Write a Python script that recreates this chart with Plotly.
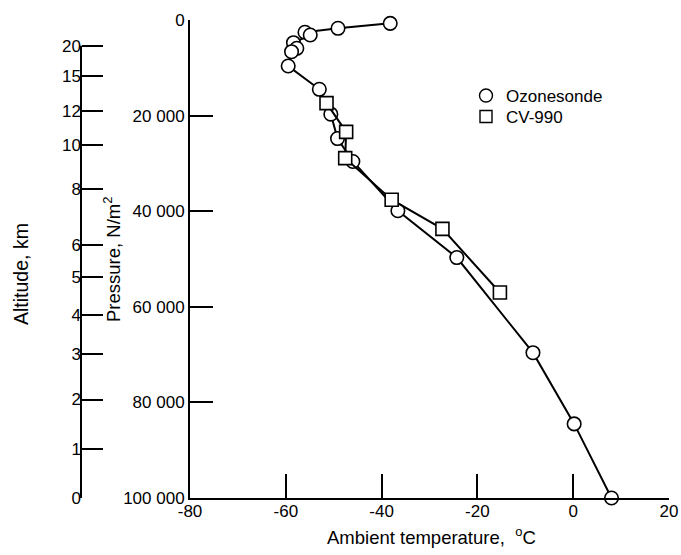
import plotly.graph_objects as go

# Ozonesonde sounding: temperature (deg C) vs pressure (N/m^2)
ozone_temp = [-38.2, -49.1, -56.0, -54.9, -58.4, -57.7, -58.8, -59.5, -53.0,
              -50.6, -49.2, -46.0, -36.6, -24.3, -8.4, 0.2, 8.0]
ozone_pres = [700, 1740, 2570, 3140, 4750, 5920, 6630, 9620, 14500,
              19700, 24800, 29600, 39900, 49700, 69600, 84500, 100000]

# CV-990 aircraft measurements
cv_temp = [-51.5, -47.4, -47.6, -37.9, -27.3, -15.3]
cv_pres = [17400, 23400, 28900, 37600, 43700, 57000]

# Axis ticks
temp_ticks = [-80, -60, -40, -20, 0, 20]
pres_ticks = [0, 20000, 40000, 60000, 80000, 100000]
pres_labels = ["0", "20 000", "40 000", "60 000", "80 000", "100 000"]
alt_labels = ["20", "15", "12", "10", "8", "6", "5", "4", "3", "2", "1", "0"]
alt_pres = [5370, 11650, 18960, 26130, 35400, 47000, 53700, 61800, 69900,
            79400, 89800, 100000]

W, H = 681, 555
FONT = "Liberation Sans, Arial, sans-serif"
FS = 17
FT = 18.5

def px(x):
    return x / W

def py(y):
    return 1 - y / H

fig = go.Figure()

fig.add_trace(go.Scatter(
    x=ozone_temp, y=ozone_pres, mode="lines+markers",
    line=dict(color="black", width=2),
    marker=dict(symbol="circle", size=13.5, color="white",
                line=dict(color="black", width=1.6)),
    cliponaxis=False, showlegend=False))

fig.add_trace(go.Scatter(
    x=cv_temp, y=cv_pres, mode="lines+markers",
    line=dict(color="black", width=2),
    marker=dict(symbol="square", size=13, color="white",
                line=dict(color="black", width=1.6)),
    cliponaxis=False, showlegend=False))

# legend entries (markers only), each in its own legend box
fig.add_trace(go.Scatter(
    x=[None], y=[None], mode="markers", name="Ozonesonde", legend="legend",
    marker=dict(symbol="circle", size=13, color="white",
                line=dict(color="black", width=1.4))))
fig.add_trace(go.Scatter(
    x=[None], y=[None], mode="markers", name="CV-990", legend="legend2",
    marker=dict(symbol="square", size=12, color="white",
                line=dict(color="black", width=1.4))))

# dummy trace to activate altitude axis
fig.add_trace(go.Scatter(x=[None], y=[None], yaxis="y2", showlegend=False))

x0, x1 = px(190), px(669)
y0, y1 = py(498), py(20)
alt_x = px(81)

leg_common = dict(xanchor="left", yanchor="top", bgcolor="rgba(0,0,0,0)",
                  font=dict(size=FS), itemwidth=30, tracegroupgap=0)

fig.update_layout(
    width=W, height=H,
    margin=dict(l=0, r=0, t=0, b=0, pad=0),
    paper_bgcolor="white", plot_bgcolor="white",
    font=dict(family=FONT, size=FS, color="black"),
    xaxis=dict(domain=[x0, x1], range=[-80, 20], tickvals=temp_ticks,
               ticktext=[str(v) for v in temp_ticks],
               ticks="inside", ticklen=24, tickwidth=1.6, tickcolor="black",
               ticklabelstandoff=-3,
               showline=True, linecolor="black", linewidth=2,
               showgrid=False, zeroline=False, automargin=False),
    yaxis=dict(domain=[y0, y1], range=[100000, 0], tickvals=pres_ticks,
               ticktext=pres_labels, ticks="inside", ticklen=23,
               tickwidth=1.6, tickcolor="black",
               showline=True, linecolor="black", linewidth=2,
               showgrid=False, zeroline=False, automargin=False),
    yaxis2=dict(overlaying="y", anchor="free", position=alt_x, side="left",
                range=[100000, 0], tickvals=alt_pres, ticktext=alt_labels,
                ticks="inside", ticklen=21, tickwidth=1.6, tickcolor="black",
                showline=False, showgrid=False, zeroline=False,
                automargin=False),
    legend=dict(x=px(466), y=py(78), **leg_common),
    legend2=dict(x=px(466), y=py(99), **leg_common),
    shapes=[dict(type="line", xref="paper", yref="y", x0=alt_x, x1=alt_x,
                 y0=alt_pres[0], y1=alt_pres[-1],
                 line=dict(color="black", width=2))],
    annotations=[
        dict(text="Altitude, km", xref="paper", yref="paper",
             x=px(21), y=py(274), textangle=-90, showarrow=False,
             xanchor="center", yanchor="middle", font=dict(size=19.5)),
        dict(text="Pressure, N/m<sup>2</sup>", xref="paper", yref="paper",
             x=px(112), y=py(260), textangle=-90, showarrow=False,
             xanchor="center", yanchor="middle", font=dict(size=FT)),
        dict(text="Ambient temperature,  <sup>o</sup>C", xref="paper",
             yref="paper", x=px(431), y=py(536), showarrow=False,
             xanchor="center", yanchor="middle", font=dict(size=FT)),
    ],
)

fig.write_html("out.html")
